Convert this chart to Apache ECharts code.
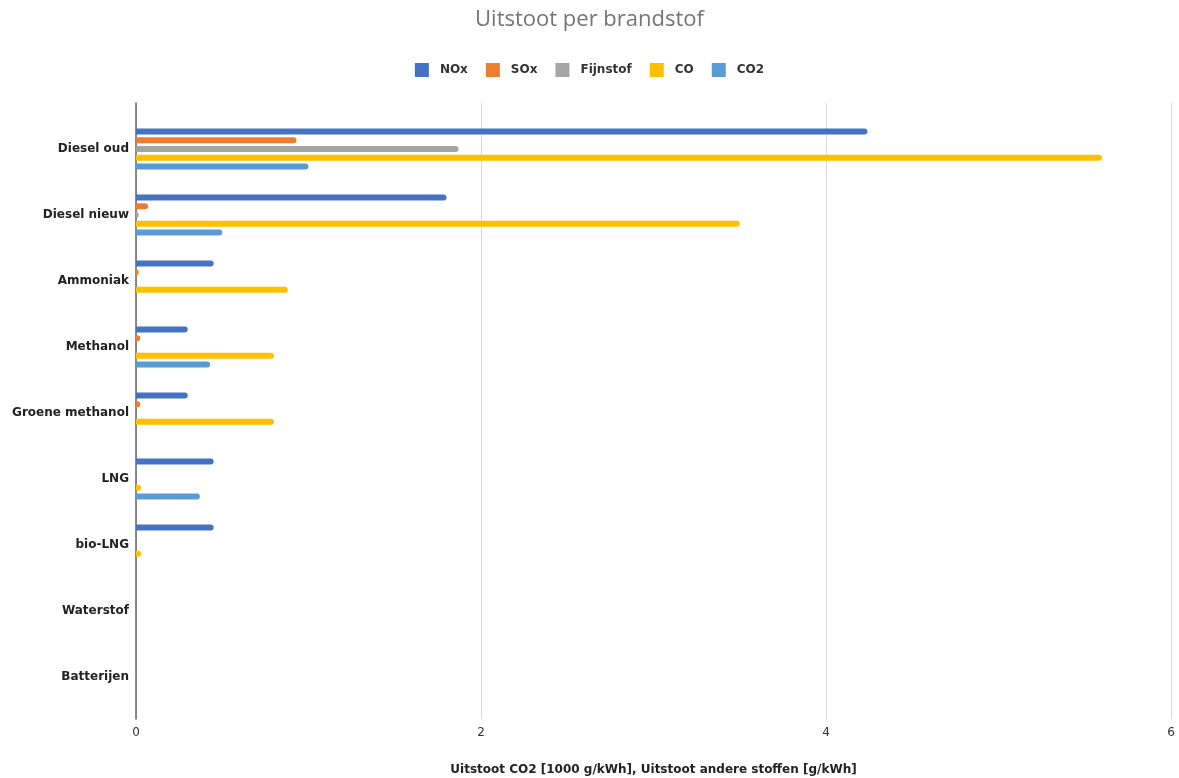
<!DOCTYPE html>
<html>
<head>
<meta charset="utf-8">
<title>Uitstoot per brandstof</title>
<script src="https://cdn.jsdelivr.net/npm/echarts@6/dist/echarts.min.js"></script>
<style>
  html, body { margin: 0; padding: 0; background: #fff; }
  #chart { width: 1179px; height: 778px; }
</style>
</head>
<body>
<div id="chart"></div>
<script>
// brandstoffen (categorieen)
const fuels = ['Diesel oud', 'Diesel nieuw', 'Ammoniak', 'Methanol', 'Groene methanol', 'LNG', 'bio-LNG', 'Waterstof', 'Batterijen']
// uitstoot per stof
const nox      = [4.24, 1.80, 0.45, 0.30, 0.30, 0.45, 0.45, 0, 0]
const sox      = [0.93, 0.07, 0.015, 0.025, 0.025, 0, 0, 0, 0]
const fijnstof = [1.87, 0.015, 0, 0, 0, 0, 0, 0, 0]
const co       = [5.60, 3.50, 0.88, 0.80, 0.80, 0.03, 0.03, 0, 0]
const co2      = [1.00, 0.50, 0, 0.43, 0, 0.37, 0, 0, 0]
const xTicks = [0, 2, 4, 6]

const seriesNames = ['NOx', 'SOx', 'Fijnstof', 'CO', 'CO2']
const seriesData = [nox, sox, fijnstof, co, co2]
const colors = ['#4472c4', '#ed7d31', '#a5a5a5', '#ffc000', '#5b9bd5']

const labelFont = 'DejaVu Sans'

const chart = echarts.init(document.getElementById('chart'))

const option = {
    animation: false,
    color: colors,
    title: {
        text: 'Uitstoot per brandstof',
        left: 'center',
        top: 4,
        textStyle: {
            fontFamily: 'Open Sans',
            fontSize: 22,
            fontWeight: 'normal',
            color: '#757575'
        }
    },
    legend: {
        top: 58,
        left: 'center',
        itemWidth: 14,
        itemHeight: 14,
        itemGap: 18,
        icon: 'rect',
        textStyle: {
            fontFamily: labelFont,
            fontSize: 12,
            fontWeight: 'bold',
            color: '#333',
            padding: [0, 0, 0, 6]
        },
        data: seriesNames
    },
    grid: [
        // achtergrond: rasterlijnen en as-labels
        { left: 136, right: 8, top: 103, bottom: 59, outerBoundsMode: 'none' },
        // balken
        { left: 136, right: 8, top: 116, bottom: 68, outerBoundsMode: 'none' }
    ],
    xAxis: [
        {
            gridIndex: 0,
            type: 'value',
            min: xTicks[0],
            max: xTicks[xTicks.length - 1],
            interval: 2,
            name: 'Uitstoot CO2 [1000 g/kWh], Uitstoot andere stoffen [g/kWh]',
            nameLocation: 'middle',
            nameGap: 45,
            nameTextStyle: {
                fontFamily: labelFont,
                fontSize: 12,
                fontWeight: 'bold',
                color: '#222'
            },
            axisLine: { show: false },
            axisTick: { show: false },
            axisLabel: {
                fontFamily: labelFont,
                fontSize: 12,
                color: '#333',
                margin: 8
            },
            splitLine: { show: true, lineStyle: { color: '#d9d9d9', width: 1 } }
        },
        {
            gridIndex: 1,
            type: 'value',
            min: xTicks[0],
            max: xTicks[xTicks.length - 1],
            show: false
        }
    ],
    yAxis: [
        {
            gridIndex: 0,
            type: 'value',
            min: 0,
            max: 1,
            axisLine: { show: true, lineStyle: { color: '#666', width: 1.5 } },
            axisTick: { show: false },
            axisLabel: { show: false },
            splitLine: { show: false }
        },
        {
            gridIndex: 1,
            type: 'category',
            inverse: true,
            data: fuels,
            axisLine: { show: false },
            axisTick: { show: false },
            axisLabel: {
                fontFamily: labelFont,
                fontSize: 12,
                fontWeight: 'bold',
                color: '#222',
                margin: 7
            }
        }
    ],
    series: seriesNames.map((name, i) => ({
        name: name,
        type: 'bar',
        xAxisIndex: 1,
        yAxisIndex: 1,
        data: seriesData[i],
        barWidth: 6,
        barGap: '45%',
        itemStyle: { color: colors[i], borderRadius: [0, 3, 3, 0] }
    }))
}

chart.setOption(option)
</script>
</body>
</html>
